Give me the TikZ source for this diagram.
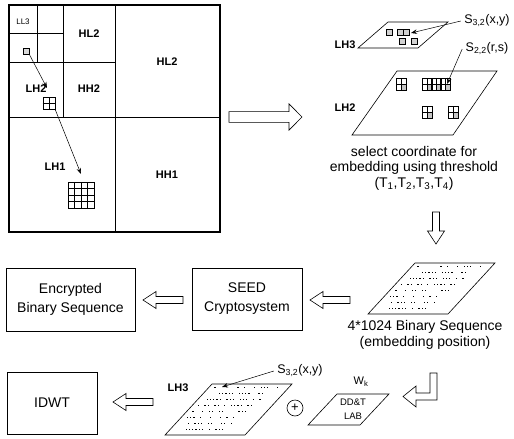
\documentclass[tikz,border=0pt]{standalone}
\usepackage{fontspec}
\setmainfont{Liberation Sans}
\usetikzlibrary{arrows.meta}
\tikzset{
  pics/blockarrow/.style={code={
    \draw[line width=0.6pt, fill=white] (0,-3.5) -- (#1-13,-3.5) -- (#1-13,-8.5) -- (#1,0) -- (#1-13,8.5) -- (#1-13,3.5) -- (0,3.5) -- cycle;}},
  pics/quad/.style={code={
    \fill[gray!45] (5,6) rectangle (10,12);
    \draw[line width=0.6pt] (0,0) rectangle (10,12) (5,0) -- (5,12) (0,6) -- (10,6);}},
  pics/seqplane/.style={code={
    \draw[line width=0.6pt] (0,0) -- (80,0) -- (33,51) -- (-47,51) -- cycle;
    \foreach \r/\cs in {0/{0,7,9,12,14,15,16,19}, 1/{3,4,5,6,7,9,10,11,12,15,16},
        2/{1,2,3,4,5,7,8,9,11,12,13,15,17}, 3/{0,2,3,5,6,8,10,11,12,13,15,16},
        4/{0,3,5,6,8,9,14,15,16}, 5/{0,1,2,4,7,10,12,14},
        6/{2,4,5,6,8,9,12,13,15}, 7/{3,4,5,6,7,8,10,12,13,14}}
      \foreach \c in \cs
        \fill ({-0.92*(4+6*\r)+6+\c*3.3},{3+6*\r}) rectangle +(1.3,1.3);}},
  box/.style={draw, line width=0.8pt, align=center, font=\fontsize{14}{19}\selectfont},
  lab/.style={font=\bfseries\fontsize{11}{12}\selectfont},
  txt/.style={align=center, font=\fontsize{14}{15.5}\selectfont},
  ptr/.style={-{Stealth[length=6pt,width=4.5pt]}, line width=0.5pt},
}
\begin{document}
\begin{tikzpicture}[x=1pt,y=-1pt]
\useasboundingbox (0,0) rectangle (514,439);
\draw[line width=1.3pt] (9,5) rectangle (220,232);
\draw[line width=0.6pt] (115,5) -- (115,232) (9,117) -- (220,117)
  (63,5) -- (63,117) (9,62) -- (115,62) (37,5) -- (37,62) (9,33) -- (63,33);
\node[font=\fontsize{8}{9}\selectfont] (ll3) at (23,22) {LL3};
\node[lab] (hl2s) at (89,34) {HL2};
\node[lab] (hl2) at (167,62) {HL2};
\node[lab] (lh2) at (36,89) {LH2};
\node[lab] (hh2) at (89,89) {HH2};
\node[lab] (lh1) at (55,167) {LH1};
\node[lab] (hh1) at (167,175) {HH1};
\node[draw, fill=gray!30, minimum size=6pt, inner sep=0, line width=0.6pt] (s3) at (26,51) {};
\node[draw, minimum size=12pt, inner sep=0, line width=0.7pt] (s2) at (49,103.5) {};
\draw[line width=0.6pt] (s2.north) -- (s2.south) (s2.west) -- (s2.east);
\node[draw, minimum size=26pt, inner sep=0, line width=0.8pt] (s1) at (81,195) {};
\foreach \d in {6.5,13,19.5}
  \draw[line width=0.6pt] (68+\d,182) -- (68+\d,208) (68,182+\d) -- (94,182+\d);
\coordinate (t2) at (47,88);
\coordinate (t1) at (81,174);
\draw[ptr] (s3.south east) -- (t2);
\draw[ptr] (s2.south east) -- (t1);
\pic[yscale=1.55] at (229,117) {blockarrow=73};
% LH3 / LH2 planes
\draw[line width=0.6pt] (358,48) -- (418,48) -- (448,22) -- (388,22) -- cycle;
\foreach \x/\y/\w in {386/29/6, 397/29/12, 399/38/6, 411/38/6}
  \draw[line width=0.6pt, fill=gray!35] (\x,\y) rectangle +(\w,6);
\draw[line width=0.6pt] (403,29) -- (403,35);
\node[lab] (lh3) at (345,45) {LH3};
\node[font=\fontsize{12.5}{14}\selectfont] (s32) at (487,21) {S\textsubscript{3,2}(x,y)};
\coordinate (p32) at (411,33);
\draw[ptr] (s32.west) -- (p32);
\draw[line width=0.6pt] (352,135) -- (453,135) -- (497,71) -- (397,71) -- cycle;
\foreach \x/\y in {396/78, 422/78, 431.3/78, 440.6/78, 422/106, 448/106}
  \pic at (\x,\y) {quad};
\node[lab] (lh2b) at (345,108) {LH2};
\node[font=\fontsize{12.5}{14}\selectfont] (s22) at (487,49) {S\textsubscript{2,2}(r,s)};
\coordinate (p22) at (447,84);
\draw[ptr] (s22.west) -- (p22);
\node[txt] (sel) at (414,168) {select coordinate for\\embedding using threshold\\(T\textsubscript{1},T\textsubscript{2},T\textsubscript{3},T\textsubscript{4})};
\pic[rotate=-90] at (436,212) {blockarrow=32};
% middle row
\pic (bin) at (415,263) {seqplane};
\node[txt] (seqlab) at (425,335) {4*1024 Binary Sequence\\(embedding position)};
\node[box, minimum width=110pt, minimum height=62pt] (seed) at (247,299) {SEED\\Cryptosystem};
\node[box, minimum width=129pt, minimum height=63pt] (enc) at (70.5,299.5) {Encrypted\\Binary Sequence};
\pic[rotate=180] at (350,300) {blockarrow=40};
\pic[rotate=180] at (183,300) {blockarrow=40};
% bottom row
\draw[line width=0.6pt, fill=white] (430,373) -- (430,393) -- (416,393) -- (416,386) -- (403,396.5)
  -- (416,407) -- (416,400) -- (437,400) -- (437,373) -- cycle;
\draw[line width=0.6pt] (308,425) -- (360,425) -- (389,394) -- (337,394) -- cycle;
\node[font=\fontsize{11}{12}\selectfont] (wk) at (361,382) {W\textsubscript{k}};
\node[align=center, font=\fontsize{9.5}{14}\selectfont] (wm) at (353,409) {DD\&T\\LAB};
\node[draw, circle, minimum size=16pt, inner sep=0, line width=0.6pt, font=\fontsize{13}{13}\selectfont] (plus) at (295,408) {+};
\pic (emb) at (212,384) {seqplane};
\node[lab] (lh3b) at (178,388) {LH3};
\node[font=\fontsize{12.5}{14}\selectfont] (s32b) at (300,371) {S\textsubscript{3,2}(x,y)};
\coordinate (q32) at (222,387);
\draw[ptr] (s32b.west) -- (q32);
\pic[rotate=180] at (153,402) {blockarrow=40};
\node[box, minimum width=90pt, minimum height=62pt] (idwt) at (52,403) {IDWT};
\end{tikzpicture}
\end{document}
